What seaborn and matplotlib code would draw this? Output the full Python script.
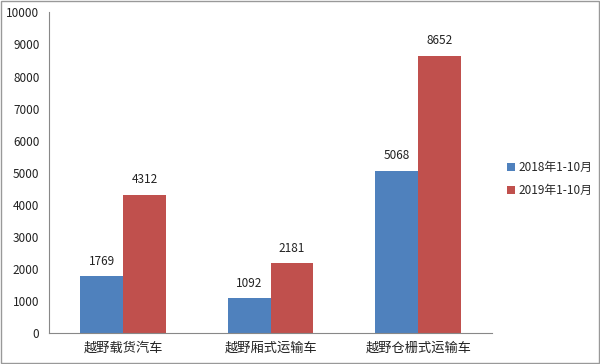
import pandas as pd
import matplotlib
matplotlib.use("Agg")
import matplotlib.pyplot as plt
import seaborn as sns
from matplotlib.patches import Rectangle

# data
categories = ["越野载货汽车", "越野厢式运输车", "越野仓栅式运输车"]
series_names = ["2018年1-10月", "2019年1-10月"]
values_2018 = [1769, 1092, 5068]
values_2019 = [4312, 2181, 8652]

df = pd.DataFrame({
    "category": categories * 2,
    "period": [series_names[0]] * 3 + [series_names[1]] * 3,
    "value": values_2018 + values_2019,
})

sns.set_style("white")
plt.rcParams["font.family"] = ["Noto Sans CJK SC", "DejaVu Sans"]

fig = plt.figure(figsize=(6, 3.64), dpi=100)
ax = fig.add_axes([0.082, 0.085, 0.738, 0.881])

sns.barplot(data=df, x="category", y="value", hue="period", order=categories,
            hue_order=series_names, palette=["#4F81BD", "#C0504D"],
            width=0.58, saturation=1, linewidth=0, ax=ax, errorbar=None)

for cont in ax.containers:
    ax.bar_label(cont, fmt="%d", padding=6, fontsize=8.5, color="#222222")

ax.set_ylim(0, 10000)
ax.set_yticks(range(0, 10001, 1000))
ax.set_xlim(-0.5, 2.5)
ax.set_xlabel("")
ax.set_ylabel("")
ax.tick_params(axis="y", labelsize=8.5, length=4, color="#888888", labelcolor="#222222", pad=3)
ax.tick_params(axis="x", labelsize=9.5, length=0, pad=6, labelcolor="#222222")
ax.set_xticks([-0.5, 0.5, 1.5, 2.5], minor=True)
ax.tick_params(axis="x", which="minor", length=4, color="#888888")
for side in ["top", "right"]:
    ax.spines[side].set_visible(False)
for side in ["left", "bottom"]:
    ax.spines[side].set_color("#888888")
    ax.spines[side].set_linewidth(0.8)

leg = ax.legend(loc="center left", bbox_to_anchor=(1.01, 0.48), frameon=False,
                fontsize=8.5, handlelength=0.7, handleheight=0.7, handletextpad=0.3,
                labelspacing=0.8)
for h in leg.legend_handles:
    h.set_linewidth(0)

# outer border
fig.patches.append(Rectangle((0.001, 0.002), 0.997, 0.995, transform=fig.transFigure,
                             fill=False, edgecolor="#999999", linewidth=1))

fig.savefig("out.png", dpi=100)
